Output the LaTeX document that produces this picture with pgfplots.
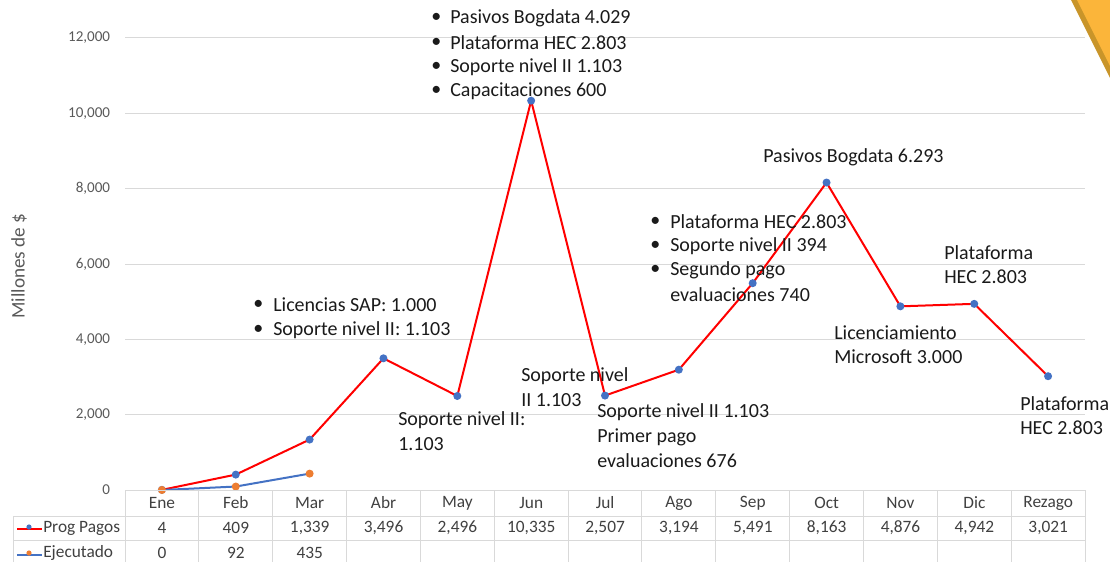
\documentclass[border=0pt]{standalone}
\usepackage{pgfplots}
\pgfplotsset{compat=1.18}
\usepackage{fontspec}
\setmainfont{Carlito}
\definecolor{gridgray}{HTML}{D9D9D9}
\definecolor{ticktext}{HTML}{595959}
\definecolor{tabtext}{HTML}{404040}
\definecolor{progred}{HTML}{FF0000}
\definecolor{ejeblue}{HTML}{4472C4}
\definecolor{ejeorange}{HTML}{ED7D31}
\definecolor{goldA}{HTML}{FBB53A}
\definecolor{goldB}{HTML}{C9952A}
\definecolor{anntext}{HTML}{1A1A1A}
\begin{document}
\begin{tikzpicture}
\path[use as bounding box] (0,0) rectangle (832.5pt,421.5pt);
\begin{axis}[
  at={(93.75pt,54pt)}, anchor=south west,
  scale only axis, width=720pt, height=339pt,
  xmin=-0.5, xmax=12.5, ymin=0, ymax=12000,
  axis line style={draw=none},
  xtick=\empty,
  ytick={2000,4000,6000,8000,10000,12000},
  extra y ticks={0}, extra y tick style={grid=none},
  ymajorgrids, grid style={color=gridgray, line width=0.75pt},
  major tick length=0pt,
  /pgf/number format/assume math mode=true,
  /pgf/number format/1000 sep={,},
  scaled y ticks=false,
  yticklabel style={font=\fontsize{11.3}{13}\selectfont, color=ticktext, anchor=east, inner sep=0pt, xshift=-11pt},
  clip=false,
]
\addplot[color=progred, line width=1.5pt, mark=*, mark size=2.2pt,
  mark options={fill=ejeblue, draw=ejeblue}] coordinates {
  (0,4) (1,409) (2,1339) (3,3496) (4,2496) (5,10335) (6,2507)
  (7,3194) (8,5491) (9,8163) (10,4876) (11,4942) (12,3021)};
\addplot[color=ejeblue, line width=1.5pt, mark=*, mark size=2.2pt,
  mark options={fill=ejeorange, draw=ejeorange}] coordinates {
  (0,0) (1,92) (2,435)};
\end{axis}
\begin{scope}[x=0.75pt,y=-0.75pt,shift={(0pt,421.5pt)}]
  % gold corner
  \fill[goldB] (1071,0) -- (1110,0) -- (1110,78) -- cycle;
  \fill[goldA] (1077,0) -- (1110,0) -- (1110,66) -- cycle;
  % y label
  \node[rotate=90, color=ticktext, font=\fontsize{14.4}{16}\selectfont] at (19,266) {Millones de \$};
  % table grid
  \draw[gridgray, line width=0.75pt] (125,490) -- (1085,490);
  \draw[gridgray, line width=0.75pt] (13,516) -- (1085,516);
  \draw[gridgray, line width=0.75pt] (13,540.5) -- (1085,540.5);
  \draw[gridgray, line width=0.75pt] (13,516) -- (13,562);
  \foreach \k in {0,...,13} {
    \draw[gridgray, line width=0.75pt] ({125+73.85*\k},490) -- ({125+73.85*\k},562);
  }
  \begin{scope}[every node/.style={color=tabtext, font=\fontsize{13}{15}\selectfont, inner sep=0pt}]
  % header
  \foreach \c [count=\i from 0] in {Ene,Feb,Mar,Abr,May,Jun,Jul,Ago,Sep,Oct,Nov,Dic,Rezago} {
    \node at ({162+73.85*\i},503) {\c};
  }
  % Prog Pagos row
  \foreach \v [count=\i from 0] in {4,409,{1,339},{3,496},{2,496},{10,335},{2,507},{3,194},{5,491},{8,163},{4,876},{4,942},{3,021}} {
    \node at ({162+73.85*\i},528) {\v};
  }
  \foreach \v [count=\i from 0] in {0,92,435} {
    \node at ({162+73.85*\i},553) {\v};
  }
  \node[anchor=west] at (43,528) {Prog Pagos};
  \node[anchor=west] at (43,553) {Ejecutado};
  \end{scope}
  % legend keys
  \draw[progred, line width=1.5pt] (17,529) -- (42,529);
  \fill[ejeblue] (29,527) circle (2.6);
  \draw[ejeblue, line width=1.5pt] (17,555) -- (42,555);
  \fill[ejeorange] (29,553) circle (2.6);
  % annotations
  \begin{scope}[every node/.style={anchor=west, inner sep=0pt, font=\fontsize{15}{17}\selectfont, color=anntext}]
    \node at (253,305) {•}; \node at (273,305) {Licencias SAP: 1.000};
    \node at (253,330) {•}; \node at (273,330) {Soporte nivel II: 1.103};
    \node at (398,420) {Soporte nivel II:};
    \node at (398,444) {1.103};
    \node at (431,18) {•}; \node at (450,18) {Pasivos Bogdata 4.029};
    \node at (431,43) {•}; \node at (450,43) {Plataforma HEC 2.803};
    \node at (431,67) {•}; \node at (450,67) {Soporte nivel II 1.103};
    \node at (431,91) {•}; \node at (450,91) {Capacitaciones 600};
    \node at (521,376) {Soporte nivel};
    \node at (521,400) {II 1.103};
    \node at (597,412) {Soporte nivel II 1.103};
    \node at (597,437) {Primer pago};
    \node at (597,461) {evaluaciones 676};
    \node at (650,222) {•}; \node at (670,222) {Plataforma HEC 2.803};
    \node at (650,246) {•}; \node at (670,246) {Soporte nivel II 394};
    \node at (650,270) {•}; \node at (670,270) {Segundo pago};
    \node at (670,295) {evaluaciones 740};
    \node at (763,157) {Pasivos Bogdata 6.293};
    \node at (944,253) {Plataforma};
    \node at (944,277) {HEC 2.803};
    \node at (834,333) {Licenciamiento};
    \node at (834,357) {Microsoft 3.000};
    \node at (1020,404) {Plataforma};
    \node at (1020,428) {HEC 2.803};
  \end{scope}
\end{scope}
\end{tikzpicture}
\end{document}
